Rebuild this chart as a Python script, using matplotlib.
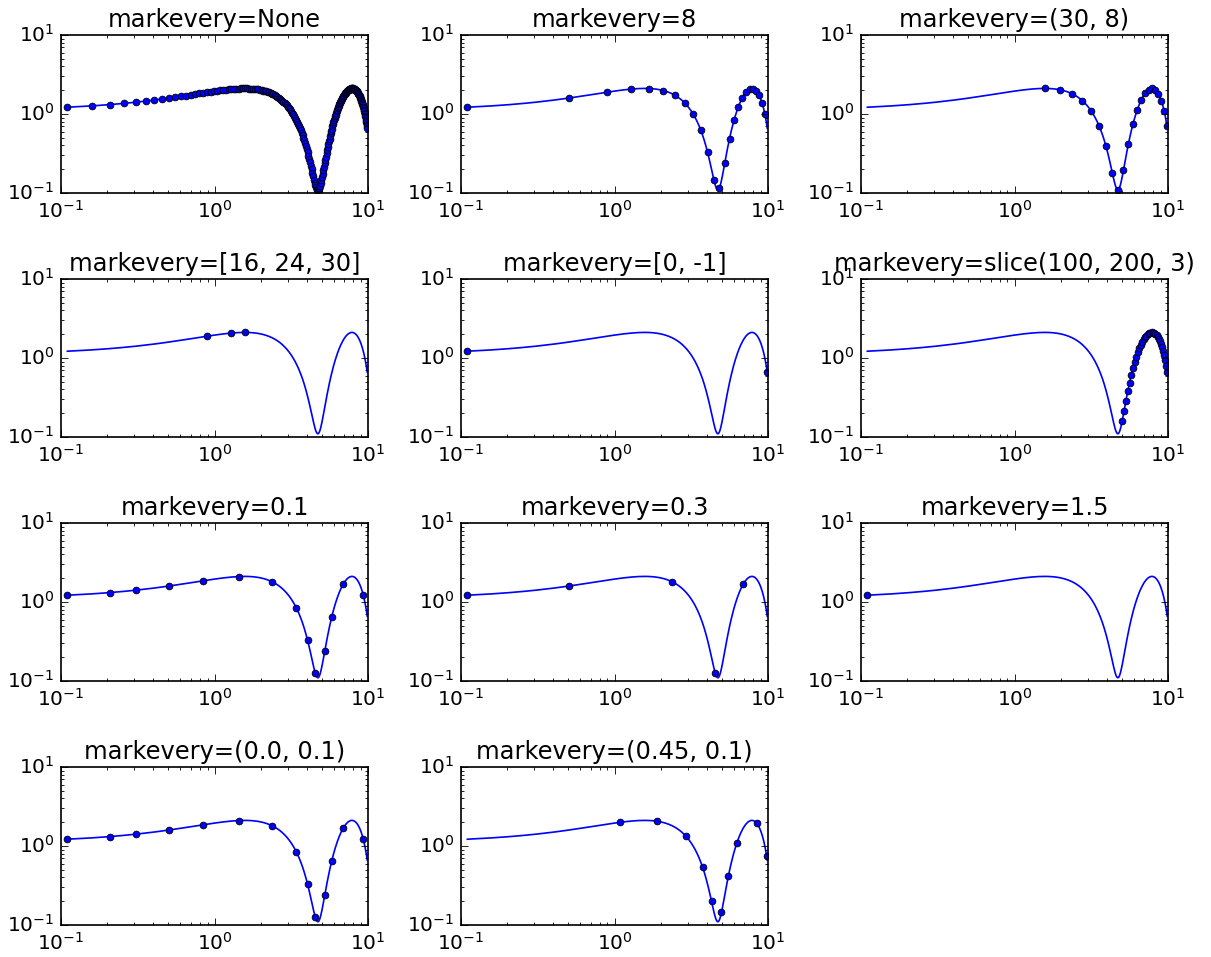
import matplotlib
matplotlib.use('Agg')
import matplotlib.pyplot as plt

x_values = [
    0.110, 0.159, 0.208, 0.257, 0.307, 0.356, 0.405, 0.454, 0.503, 0.552,
    0.601, 0.651, 0.700, 0.749, 0.798, 0.847, 0.896, 0.945, 0.995, 1.044,
    1.093, 1.142, 1.191, 1.240, 1.290, 1.339, 1.388, 1.437, 1.486, 1.535,
    1.584, 1.634, 1.683, 1.732, 1.781, 1.830, 1.879, 1.928, 1.978, 2.027,
    2.076, 2.125, 2.174, 2.223, 2.272, 2.322, 2.371, 2.420, 2.469, 2.518,
    2.567, 2.616, 2.666, 2.715, 2.764, 2.813, 2.862, 2.911, 2.961, 3.010,
    3.059, 3.108, 3.157, 3.206, 3.255, 3.304, 3.354, 3.403, 3.452, 3.501,
    3.550, 3.599, 3.648, 3.698, 3.747, 3.796, 3.845, 3.894, 3.943, 3.992,
    4.042, 4.091, 4.140, 4.189, 4.238, 4.287, 4.337, 4.386, 4.435, 4.484,
    4.533, 4.582, 4.631, 4.681, 4.730, 4.779, 4.828, 4.877, 4.926, 4.975,
    5.025, 5.074, 5.123, 5.172, 5.221, 5.270, 5.319, 5.369, 5.418, 5.467,
    5.516, 5.565, 5.614, 5.663, 5.713, 5.762, 5.811, 5.860, 5.909, 5.958,
    6.007, 6.057, 6.106, 6.155, 6.204, 6.253, 6.302, 6.352, 6.401, 6.450,
    6.499, 6.548, 6.597, 6.646, 6.696, 6.745, 6.794, 6.843, 6.892, 6.941,
    6.990, 7.040, 7.089, 7.138, 7.187, 7.236, 7.285, 7.334, 7.384, 7.433,
    7.482, 7.531, 7.580, 7.629, 7.678, 7.728, 7.777, 7.826, 7.875, 7.924,
    7.973, 8.022, 8.072, 8.121, 8.170, 8.219, 8.268, 8.317, 8.366, 8.416,
    8.465, 8.514, 8.563, 8.612, 8.661, 8.710, 8.760, 8.809, 8.858, 8.907,
    8.956, 9.005, 9.054, 9.104, 9.153, 9.202, 9.251, 9.300, 9.349, 9.399,
    9.448, 9.497, 9.546, 9.595, 9.644, 9.693, 9.743, 9.792, 9.841, 9.890,
]
y_values = [
    1.2198, 1.2685, 1.3168, 1.3646, 1.4118, 1.4583, 1.5039, 1.5486, 1.5922, 1.6347,
    1.6759, 1.7157, 1.7540, 1.7908, 1.8260, 1.8594, 1.8910, 1.9208, 1.9486, 1.9743,
    1.9980, 2.0195, 2.0388, 2.0559, 2.0707, 2.0832, 2.0933, 2.1011, 2.1064, 2.1094,
    2.1099, 2.1080, 2.1037, 2.0971, 2.0880, 2.0766, 2.0628, 2.0467, 2.0284, 2.0079,
    1.9851, 1.9603, 1.9334, 1.9046, 1.8738, 1.8411, 1.8068, 1.7707, 1.7330, 1.6938,
    1.6532, 1.6113, 1.5682, 1.5240, 1.4788, 1.4327, 1.3858, 1.3382, 1.2901, 1.2416,
    1.1927, 1.1437, 1.0945, 1.0454, 0.9965, 0.9478, 0.8995, 0.8517, 0.8046, 0.7582,
    0.7126, 0.6680, 0.6245, 0.5821, 0.5410, 0.5013, 0.4631, 0.4264, 0.3914, 0.3581,
    0.3266, 0.2970, 0.2694, 0.2438, 0.2203, 0.1989, 0.1798, 0.1629, 0.1483, 0.1360,
    0.1260, 0.1184, 0.1133, 0.1105, 0.1101, 0.1122, 0.1167, 0.1236, 0.1328, 0.1444,
    0.1584, 0.1746, 0.1931, 0.2138, 0.2367, 0.2617, 0.2887, 0.3177, 0.3487, 0.3814,
    0.4160, 0.4522, 0.4900, 0.5293, 0.5700, 0.6120, 0.6552, 0.6995, 0.7447, 0.7909,
    0.8379, 0.8855, 0.9336, 0.9822, 1.0311, 1.0801, 1.1293, 1.1784, 1.2273, 1.2759,
    1.3242, 1.3719, 1.4190, 1.4654, 1.5109, 1.5554, 1.5988, 1.6411, 1.6821, 1.7217,
    1.7598, 1.7964, 1.8313, 1.8644, 1.8958, 1.9252, 1.9527, 1.9781, 2.0014, 2.0226,
    2.0416, 2.0583, 2.0728, 2.0849, 2.0947, 2.1020, 2.1070, 2.1096, 2.1098, 2.1075,
    2.1029, 2.0958, 2.0864, 2.0746, 2.0605, 2.0441, 2.0254, 2.0045, 1.9815, 1.9563,
    1.9291, 1.8999, 1.8689, 1.8360, 1.8013, 1.7650, 1.7271, 1.6877, 1.6469, 1.6048,
    1.5615, 1.5171, 1.4717, 1.4255, 1.3785, 1.3308, 1.2827, 1.2341, 1.1852, 1.1361,
    1.0869, 1.0379, 0.9890, 0.9403, 0.8921, 0.8444, 0.7974, 0.7511, 0.7057, 0.6614,
]

# one subplot per markevery setting
cases = [None, 8, (30, 8), [16, 24, 30], [0, -1], slice(100, 200, 3),
         0.1, 0.3, 1.5, (0.0, 0.1), (0.45, 0.1)]

if __name__ == '__main__':
    plt.style.use('classic')
    cols = 3
    rows = len(cases) // cols + 1
    dpi = 121.1

    fig, axs = plt.subplots(rows, cols, figsize=(1211 / dpi, 957 / dpi), dpi=dpi)
    fig.subplots_adjust(left=0.0504, right=0.9645, bottom=0.0334, top=0.9634,
                        wspace=0.303, hspace=0.544)

    for i, case in enumerate(cases):
        ax = axs[i // cols, i % cols]
        ax.set_title('markevery=%s' % str(case))
        ax.plot(x_values, y_values, 'o', ls='-', ms=4, markevery=case)
        ax.set_xscale('log')
        ax.set_yscale('log')
        ax.set_xlim(0.1, 10)
        ax.set_ylim(0.1, 10)

    # hide unused slot
    for j in range(len(cases), rows * cols):
        axs[j // cols, j % cols].set_visible(False)

    fig.savefig('out.png', dpi=dpi, facecolor='white')
